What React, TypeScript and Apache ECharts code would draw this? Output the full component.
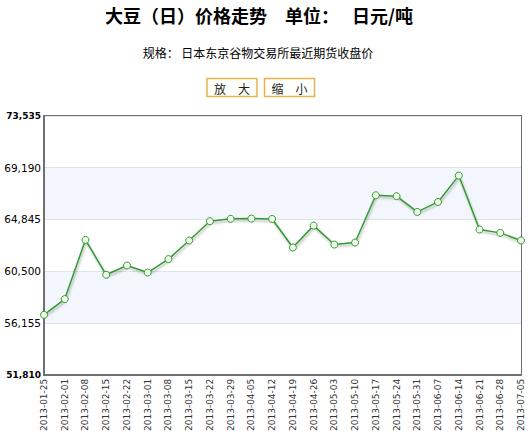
import React, { useEffect, useRef } from 'react';
import * as echarts from 'echarts';

const COLORS = {
  LINE: '#339933',
  MARKER_FILL: '#effde8',
  FRAME: '#707070',
  SPLIT_LINE: '#dfe3ea',
  BAND: '#f3f7fd',
  BUTTON_BORDER: '#e3b552',
};

const dates = [
  '2013-01-25', '2013-02-01', '2013-02-08', '2013-02-15', '2013-02-22', '2013-03-01',
  '2013-03-08', '2013-03-15', '2013-03-22', '2013-03-29', '2013-04-05', '2013-04-12',
  '2013-04-19', '2013-04-26', '2013-05-03', '2013-05-10', '2013-05-17', '2013-05-24',
  '2013-05-31', '2013-06-07', '2013-06-14', '2013-06-21', '2013-06-28', '2013-07-05',
];

const prices = [
  56840, 58160, 63130, 60200, 60980, 60390,
  61520, 63080, 64700, 64900, 64920, 64890,
  62490, 64330, 62740, 62910, 66880, 66800,
  65480, 66320, 68530, 64000, 63720, 63080,
];

const yMin = 51810;
const yMax = 73535;
const yStep = 4345;

const titleText = '大豆（日）价格走势　单位：　 日元/吨';
const specText = '规格： 日本东京谷物交易所最近期货收盘价';
const buttonLabels = ['放　大', '缩　小'];

const withCommas = (v: number) => String(Math.round(v)).replace(/\B(?=(\d{3})+(?!\d))/g, ',');

const App: React.FC = () => {
  const divEL = useRef<HTMLDivElement>(null);

  useEffect(() => {
    const instance = echarts.init(divEL.current as any, null, { renderer: 'svg' });

    const buttons = buttonLabels.map((label, i) => ({
      type: 'group',
      x: 207 + i * 57.5,
      y: 78.5,
      children: [
        {
          type: 'rect',
          shape: { x: 0, y: 0, width: 50, height: 18 },
          style: { fill: '#fffffc', stroke: COLORS.BUTTON_BORDER, lineWidth: 1.5 },
        },
        {
          type: 'text',
          x: 25,
          y: 9.5,
          style: {
            text: label,
            fontSize: 12,
            fontFamily: 'Noto Sans CJK SC',
            fill: '#222',
            align: 'center',
            verticalAlign: 'middle',
          },
        },
      ],
    }));

    const option: any = {
      animation: false,
      backgroundColor: '#fff',
      graphic: [
        {
          type: 'text',
          x: 259,
          y: 15,
          style: {
            text: titleText,
            fontSize: 18,
            fontWeight: 'bold',
            fontFamily: 'Noto Sans CJK SC',
            fill: '#000',
            align: 'center',
            verticalAlign: 'middle',
          },
        },
        {
          type: 'text',
          x: 258,
          y: 52,
          style: {
            text: specText,
            fontSize: 12,
            fontFamily: 'Noto Sans CJK SC',
            fill: '#000',
            align: 'center',
            verticalAlign: 'middle',
          },
        },
        ...buttons,
      ],
      grid: {
        left: 44,
        right: 7,
        top: 116,
        bottom: 59,
        show: true,
        borderColor: COLORS.FRAME,
        borderWidth: 2,
        backgroundColor: 'transparent',
      },
      xAxis: {
        type: 'category',
        data: dates,
        boundaryGap: false,
        axisLine: { show: true, lineStyle: { color: COLORS.FRAME, width: 2 } },
        axisTick: { show: false },
        splitLine: { show: false },
        axisLabel: {
          rotate: 90,
          interval: 0,
          margin: 4,
          fontSize: 9,
          fontFamily: 'DejaVu Sans',
          color: '#333',
        },
      },
      yAxis: {
        type: 'value',
        min: yMin,
        max: yMax,
        interval: yStep,
        axisLine: { show: true, lineStyle: { color: COLORS.FRAME, width: 2 } },
        axisTick: { show: false },
        splitLine: { show: true, lineStyle: { color: COLORS.SPLIT_LINE, width: 1 } },
        splitArea: { show: true, areaStyle: { color: ['#ffffff', COLORS.BAND] } },
        axisLabel: {
          margin: 3,
          fontSize: 10.5,
          fontFamily: 'DejaVu Sans',
          color: '#000',
          formatter: (v: number) =>
            v === yMin || v === yMax ? `{b|${withCommas(v)}}` : withCommas(v),
          rich: {
            b: { fontSize: 9, fontWeight: 'bold', fontFamily: 'DejaVu Sans', color: '#000' },
          },
        },
      },
      series: [
        {
          type: 'line',
          data: prices,
          symbol: 'circle',
          symbolSize: 7,
          lineStyle: {
            color: COLORS.LINE,
            width: 1.5,
            shadowColor: 'rgba(0,0,0,0.3)',
            shadowBlur: 2,
            shadowOffsetX: 1,
            shadowOffsetY: 2,
          },
          itemStyle: {
            color: COLORS.MARKER_FILL,
            borderColor: COLORS.LINE,
            borderWidth: 1,
          },
          emphasis: { disabled: true },
        },
      ],
    };

    instance.setOption(option);

    return () => {
      instance.dispose();
    };
  }, []);

  return (
    <div
      ref={divEL}
      style={{ position: 'absolute', left: 0, top: 0, width: 528, height: 434 }}
    ></div>
  );
};

export default App;
